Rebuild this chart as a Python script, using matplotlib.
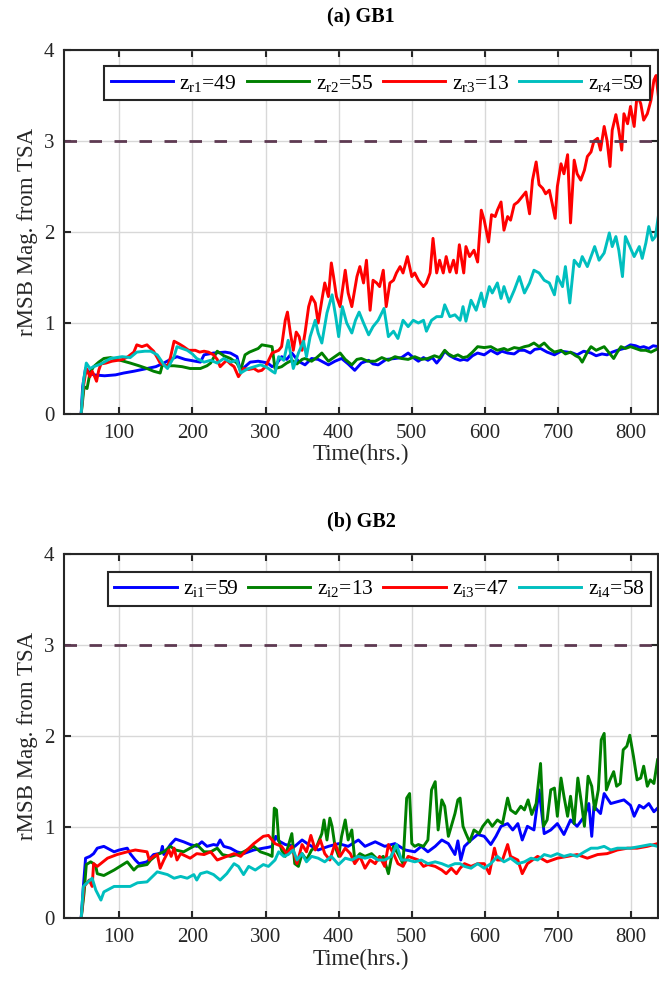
import matplotlib
matplotlib.use("Agg")
import matplotlib.pyplot as plt

plt.rcParams['font.family'] = ['Liberation Serif', 'DejaVu Serif']
plt.rcParams['mathtext.fontset'] = 'custom'
plt.rcParams['mathtext.rm'] = 'Liberation Serif'
plt.rcParams['mathtext.it'] = 'Liberation Serif:italic'

# ---------------- (a) GB1 ----------------
t_r1 = [48, 50, 54, 60, 65, 80, 95, 106, 120, 138, 150, 161, 170, 179, 190, 197, 211, 216, 229, 245,
        252, 261, 266, 272, 279, 290, 297, 303, 309, 315, 322, 329, 336, 345, 354, 363, 372, 386, 395, 404,
        413, 422, 431, 441, 447, 454, 465, 477, 486, 495, 502, 509, 516, 522, 528, 534, 540, 545, 552, 559,
        566, 571, 576, 583, 590, 599, 608, 617, 623, 631, 640, 647, 654, 662, 668, 676, 685, 695, 704, 713,
        720, 726, 735, 745, 752, 760, 767, 774, 781, 790, 799, 806, 812, 817, 824, 830, 837]
v_r1 = [0, 0.3, 0.5, 0.45, 0.43, 0.42, 0.43, 0.45, 0.47, 0.5, 0.52, 0.56, 0.6, 0.63, 0.6, 0.59, 0.57, 0.65, 0.67, 0.68,
        0.67, 0.63, 0.47, 0.52, 0.57, 0.58, 0.57, 0.56, 0.52, 0.55, 0.63, 0.6, 0.67, 0.58, 0.54, 0.61, 0.6, 0.54, 0.58, 0.61,
        0.55, 0.48, 0.56, 0.59, 0.55, 0.54, 0.6, 0.61, 0.62, 0.67, 0.62, 0.58, 0.62, 0.59, 0.62, 0.56, 0.62, 0.69, 0.64, 0.61,
        0.59, 0.6, 0.59, 0.64, 0.67, 0.65, 0.7, 0.66, 0.69, 0.67, 0.66, 0.7, 0.7, 0.67, 0.71, 0.72, 0.68, 0.65, 0.69, 0.68,
        0.67, 0.65, 0.69, 0.67, 0.64, 0.66, 0.65, 0.68, 0.7, 0.72, 0.76, 0.75, 0.73, 0.74, 0.72, 0.75, 0.74]

t_r2 = [48, 52, 56, 60, 65, 72, 79, 88, 97, 106, 115, 127, 138, 147, 156, 159, 166, 175, 186, 197,
        211, 220, 225, 234, 243, 252, 261, 266, 272, 278, 284, 290, 295, 302, 309, 313, 318, 322, 329, 336,
        343, 350, 354, 363, 370, 377, 386, 393, 402, 409, 418, 425, 431, 440, 450, 459, 468, 477, 486, 495,
        504, 513, 522, 531, 538, 545, 550, 557, 563, 570, 576, 583, 590, 599, 608, 617, 626, 631, 640, 647,
        654, 660, 667, 674, 681, 688, 695, 704, 710, 717, 724, 729, 733, 740, 745, 752, 763, 770, 776, 781,
        786, 792, 799, 806, 813, 820, 827, 832, 837]
v_r2 = [0, 0.3, 0.28, 0.45, 0.52, 0.57, 0.61, 0.62, 0.6, 0.58, 0.56, 0.53, 0.5, 0.47, 0.45, 0.54, 0.53, 0.53, 0.52, 0.5,
        0.5, 0.53, 0.56, 0.69, 0.64, 0.61, 0.56, 0.48, 0.65, 0.68, 0.7, 0.72, 0.76, 0.75, 0.74, 0.5, 0.51, 0.52, 0.56, 0.59,
        0.55, 0.6, 0.61, 0.58, 0.62, 0.67, 0.58, 0.62, 0.67, 0.6, 0.54, 0.6, 0.61, 0.58, 0.58, 0.62, 0.59, 0.63, 0.61, 0.6,
        0.63, 0.6, 0.61, 0.64, 0.62, 0.7, 0.66, 0.63, 0.65, 0.62, 0.63, 0.68, 0.74, 0.73, 0.74, 0.7, 0.72, 0.7, 0.73, 0.72,
        0.74, 0.75, 0.78, 0.74, 0.78, 0.72, 0.68, 0.7, 0.66, 0.68, 0.64, 0.62, 0.57, 0.68, 0.74, 0.7, 0.74, 0.67, 0.61, 0.68,
        0.74, 0.72, 0.74, 0.72, 0.7, 0.7, 0.68, 0.7, 0.72]

t_r3 = [48, 51, 55, 60, 63, 66, 69, 72, 75, 82, 90, 98, 105, 112, 120, 124, 131, 138, 143, 147,
        152, 156, 161, 166, 170, 175, 182, 188, 195, 204, 210, 216, 222, 229, 234, 238, 243, 247, 252, 257,
        263, 270, 277, 284, 290, 295, 300, 309, 318, 322, 327, 330, 334, 338, 342, 346, 350, 354, 359, 363,
        368, 372, 377, 381, 386, 390, 393, 397, 402, 409, 413, 418, 425, 429, 434, 438, 443, 447, 452, 456,
        461, 465, 470, 475, 479, 484, 488, 494, 500, 504, 509, 516, 520, 525, 529, 534, 538, 543, 547, 552,
        557, 561, 565, 568, 571, 574, 579, 585, 590, 595, 599, 605, 609, 614, 617, 622, 626, 631, 635, 640,
        645, 651, 656, 661, 665, 670, 674, 679, 683, 688, 692, 696, 699, 704, 708, 713, 717, 722, 726, 731,
        736, 740, 745, 749, 754, 758, 763, 767, 771, 774, 779, 783, 787, 790, 795, 799, 804, 808, 813, 817,
        822, 827, 831, 834, 837]
v_r3 = [0, 0.3, 0.5, 0.41, 0.47, 0.42, 0.36, 0.48, 0.55, 0.56, 0.58, 0.59, 0.6, 0.63, 0.68, 0.76, 0.74, 0.76, 0.72, 0.69,
        0.62, 0.56, 0.54, 0.52, 0.62, 0.8, 0.77, 0.74, 0.7, 0.7, 0.68, 0.69, 0.68, 0.65, 0.6, 0.52, 0.56, 0.59, 0.55, 0.52,
        0.41, 0.5, 0.49, 0.5, 0.47, 0.48, 0.52, 0.67, 0.7, 0.74, 1.03, 1.12, 0.89, 0.7, 0.9, 0.85, 0.7, 0.89, 1.18, 1.29,
        1.22, 1.0, 1.25, 1.44, 1.29, 1.66, 1.51, 1.29, 1.18, 1.58, 1.33, 1.18, 1.51, 1.62, 1.44, 1.69, 1.14, 1.47, 1.44, 1.4,
        1.58, 1.18, 1.44, 1.47, 1.55, 1.62, 1.55, 1.73, 1.51, 1.55, 1.47, 1.4, 1.44, 1.55, 1.93, 1.55, 1.69, 1.55, 1.73, 1.56,
        1.69, 1.55, 1.86, 1.7, 1.55, 1.84, 1.73, 1.8, 1.67, 2.24, 2.13, 1.89, 2.19, 2.17, 2.24, 2.33, 2.02, 2.17, 2.13, 2.3,
        2.33, 2.39, 2.44, 2.2, 2.57, 2.77, 2.52, 2.48, 2.42, 2.46, 2.31, 2.15, 2.5, 2.75, 2.64, 2.85, 2.1, 2.79, 2.64, 2.57,
        2.68, 2.83, 2.88, 3.0, 3.03, 2.9, 3.16, 3.0, 2.72, 3.12, 3.29, 3.12, 2.9, 3.3, 3.19, 3.38, 3.16, 3.51, 3.41, 3.23,
        3.3, 3.45, 3.67, 3.72, 3.5]

t_r4 = [48, 51, 55, 60, 65, 75, 88, 104, 115, 124, 135, 143, 152, 158, 161, 166, 175, 179, 186, 193,
        200, 206, 216, 225, 234, 243, 252, 261, 266, 272, 277, 285, 293, 300, 304, 309, 313, 318, 325, 331,
        338, 345, 352, 356, 361, 368, 372, 377, 384, 391, 396, 400, 405, 411, 418, 423, 428, 434, 441, 447,
        454, 462, 468, 475, 481, 488, 495, 502, 509, 516, 520, 527, 534, 541, 545, 552, 559, 566, 570, 574,
        581, 588, 595, 599, 606, 610, 617, 622, 626, 633, 640, 647, 654, 661, 667, 674, 681, 688, 695, 699,
        706, 710, 716, 722, 729, 733, 740, 745, 750, 756, 763, 770, 774, 779, 783, 788, 792, 798, 804, 811,
        815, 820, 824, 829, 833, 837]
v_r4 = [0, 0.35, 0.56, 0.5, 0.52, 0.55, 0.61, 0.63, 0.62, 0.68, 0.69, 0.69, 0.65, 0.58, 0.54, 0.5, 0.63, 0.74, 0.72, 0.7,
        0.66, 0.61, 0.57, 0.59, 0.56, 0.61, 0.57, 0.59, 0.45, 0.48, 0.5, 0.52, 0.54, 0.52, 0.5, 0.47, 0.45, 0.63, 0.59, 0.81,
        0.5, 0.67, 0.8, 0.63, 0.85, 1.03, 0.89, 0.78, 1.11, 1.31, 1.07, 0.85, 1.18, 1.0, 0.89, 1.03, 1.12, 1.0, 0.87, 0.96,
        1.03, 1.16, 0.85, 0.91, 0.83, 1.03, 0.96, 1.03, 1.0, 1.03, 0.91, 1.03, 1.07, 1.07, 1.2, 1.07, 1.09, 1.03, 1.18, 1.02,
        1.25, 1.14, 1.33, 1.18, 1.4, 1.33, 1.44, 1.27, 1.4, 1.23, 1.36, 1.51, 1.33, 1.44, 1.58, 1.55, 1.47, 1.44, 1.31, 1.51,
        1.4, 1.62, 1.22, 1.69, 1.62, 1.73, 1.62, 1.73, 1.84, 1.69, 1.77, 1.99, 1.84, 1.95, 1.8, 1.51, 1.95, 1.84, 1.73, 1.84,
        1.71, 1.88, 2.06, 1.91, 1.95, 2.17]

# ---------------- (b) GB2 ----------------
t_i1 = [48, 51, 54, 60, 65, 70, 79, 86, 93, 100, 111, 115, 122, 127, 138, 147, 154, 157, 159, 161,
        170, 177, 188, 197, 206, 213, 220, 229, 234, 238, 243, 252, 261, 270, 284, 297, 304, 309, 314, 318,
        327, 340, 350, 359, 372, 386, 400, 413, 427, 436, 450, 463, 477, 491, 504, 513, 522, 532, 541, 550,
        559, 563, 567, 572, 581, 590, 599, 608, 615, 622, 631, 638, 645, 651, 658, 667, 674, 681, 690, 699,
        708, 717, 726, 736, 742, 746, 749, 758, 763, 772, 781, 790, 799, 804, 811, 817, 824, 831, 836]
v_i1 = [0, 0.35, 0.66, 0.68, 0.71, 0.77, 0.79, 0.76, 0.73, 0.75, 0.77, 0.71, 0.64, 0.6, 0.62, 0.7, 0.71, 0.72, 0.79, 0.7,
        0.81, 0.87, 0.84, 0.81, 0.79, 0.84, 0.79, 0.81, 0.8, 0.86, 0.79, 0.77, 0.73, 0.71, 0.75, 0.77, 0.78, 0.79, 0.9, 0.85,
        0.81, 0.79, 0.86, 0.81, 0.75, 0.79, 0.82, 0.79, 0.86, 0.79, 0.84, 0.79, 0.82, 0.75, 0.73, 0.79, 0.73, 0.79, 0.86, 0.82,
        0.7, 0.85, 0.64, 0.79, 0.86, 0.92, 0.9, 0.81, 0.9, 1.01, 1.04, 0.97, 1.04, 0.86, 1.01, 0.97, 1.41, 0.93, 0.97, 1.04,
        0.92, 1.08, 1.01, 1.12, 1.26, 0.9, 1.23, 1.15, 1.37, 1.26, 1.28, 1.3, 1.24, 1.12, 1.24, 1.21, 1.26, 1.17, 1.21]

t_i2 = [48, 52, 55, 61, 65, 68, 70, 79, 93, 111, 120, 125, 138, 143, 152, 161, 170, 177, 188, 206,
        216, 225, 234, 241, 252, 261, 270, 284, 293, 304, 309, 312, 315, 318, 322, 327, 331, 336, 340, 345,
        350, 356, 363, 370, 377, 380, 384, 388, 391, 395, 400, 404, 409, 413, 418, 422, 429, 436, 445, 454,
        461, 468, 475, 481, 488, 493, 497, 500, 504, 509, 516, 522, 527, 532, 536, 541, 545, 550, 554, 559,
        563, 566, 570, 574, 579, 585, 592, 597, 604, 610, 617, 624, 631, 635, 642, 649, 654, 659, 664, 670,
        676, 680, 685, 690, 695, 699, 704, 708, 713, 717, 722, 727, 732, 736, 741, 746, 750, 755, 759, 763,
        766, 771, 776, 780, 785, 789, 794, 798, 803, 808, 813, 817, 822, 826, 831, 836]
v_i2 = [0, 0.28, 0.59, 0.62, 0.6, 0.57, 0.49, 0.47, 0.53, 0.62, 0.53, 0.57, 0.59, 0.64, 0.7, 0.73, 0.79, 0.75, 0.73, 0.81,
        0.73, 0.73, 0.77, 0.7, 0.68, 0.7, 0.73, 0.79, 0.73, 0.7, 0.68, 1.21, 1.19, 0.86, 0.75, 0.68, 0.79, 0.93, 0.6, 0.57,
        0.71, 0.64, 0.75, 0.79, 0.93, 1.08, 0.86, 1.1, 1.01, 0.79, 0.68, 0.9, 1.08, 0.86, 0.97, 0.64, 0.71, 0.68, 0.71, 0.64,
        0.68, 0.49, 0.79, 0.71, 0.6, 1.32, 1.37, 0.82, 0.79, 0.81, 0.79, 0.86, 1.41, 1.5, 0.97, 1.3, 1.23, 0.9, 1.01, 1.15,
        1.3, 1.32, 1.01, 0.93, 0.84, 0.97, 0.93, 1.01, 1.08, 1.01, 1.08, 1.04, 1.32, 1.19, 1.15, 1.23, 1.19, 1.3, 1.14, 1.26,
        1.7, 1.01, 1.08, 1.41, 1.43, 1.12, 1.54, 1.34, 1.12, 1.34, 1.04, 1.54, 1.26, 1.01, 1.56, 1.45, 1.19, 1.41, 1.96, 2.03,
        1.41, 1.52, 1.61, 1.45, 1.48, 1.85, 1.89, 2.01, 1.78, 1.52, 1.54, 1.67, 1.45, 1.52, 1.48, 1.74]

t_i3 = [48, 52, 59, 63, 65, 70, 84, 97, 111, 122, 138, 141, 147, 152, 156, 161, 168, 171, 175, 179,
        184, 197, 206, 216, 225, 234, 247, 257, 266, 272, 284, 297, 304, 313, 322, 329, 336, 343, 350, 356,
        362, 368, 375, 381, 388, 395, 402, 409, 416, 422, 429, 436, 443, 450, 456, 463, 468, 475, 481, 488,
        495, 502, 509, 516, 522, 532, 541, 547, 554, 561, 566, 572, 581, 590, 599, 606, 613, 617, 624, 631,
        635, 645, 651, 658, 672, 685, 699, 713, 726, 740, 754, 767, 781, 795, 808, 822, 836]
v_i3 = [0, 0.35, 0.42, 0.35, 0.6, 0.57, 0.66, 0.7, 0.73, 0.75, 0.73, 0.64, 0.68, 0.7, 0.55, 0.64, 0.75, 0.68, 0.77, 0.64,
        0.71, 0.66, 0.71, 0.7, 0.73, 0.64, 0.68, 0.71, 0.68, 0.73, 0.82, 0.9, 0.91, 0.82, 0.79, 0.71, 0.79, 0.6, 0.81, 0.73,
        0.91, 0.75, 0.86, 0.71, 0.64, 0.82, 0.68, 0.77, 0.71, 0.6, 0.68, 0.55, 0.64, 0.6, 0.68, 0.57, 0.81, 0.71, 0.6, 0.57,
        0.68, 0.66, 0.64, 0.57, 0.59, 0.57, 0.53, 0.49, 0.55, 0.49, 0.55, 0.6, 0.57, 0.6, 0.6, 0.49, 0.77, 0.64, 0.64, 0.81,
        0.68, 0.64, 0.49, 0.6, 0.68, 0.62, 0.66, 0.68, 0.7, 0.66, 0.7, 0.71, 0.75, 0.77, 0.77, 0.79, 0.82]

t_i4 = [48, 51, 56, 63, 68, 75, 79, 93, 115, 125, 138, 152, 166, 175, 184, 193, 202, 206, 211, 220,
        229, 238, 247, 257, 263, 270, 277, 286, 297, 304, 313, 318, 325, 331, 338, 343, 350, 356, 363, 372,
        381, 390, 400, 409, 418, 427, 436, 445, 454, 463, 472, 479, 486, 495, 504, 513, 522, 532, 541, 550,
        559, 566, 572, 581, 590, 599, 608, 617, 626, 635, 645, 654, 663, 672, 681, 690, 699, 708, 717, 726,
        736, 745, 754, 763, 772, 781, 790, 799, 813, 826, 836]
v_i4 = [0, 0.35, 0.39, 0.44, 0.31, 0.2, 0.29, 0.35, 0.35, 0.39, 0.4, 0.51, 0.48, 0.44, 0.46, 0.44, 0.48, 0.42, 0.49, 0.51,
        0.48, 0.42, 0.49, 0.6, 0.57, 0.48, 0.57, 0.53, 0.59, 0.57, 0.64, 0.73, 0.68, 0.7, 0.75, 0.64, 0.71, 0.62, 0.68, 0.66,
        0.62, 0.68, 0.59, 0.66, 0.64, 0.68, 0.66, 0.68, 0.64, 0.64, 0.68, 0.81, 0.64, 0.64, 0.62, 0.64, 0.6, 0.62, 0.6, 0.57,
        0.6, 0.6, 0.57, 0.55, 0.6, 0.55, 0.6, 0.68, 0.62, 0.66, 0.6, 0.62, 0.66, 0.64, 0.7, 0.68, 0.71, 0.68, 0.7, 0.68,
        0.73, 0.77, 0.77, 0.79, 0.75, 0.77, 0.77, 0.77, 0.79, 0.81, 0.79]

threshold = 3.0
labels_a = ['z$_{\\mathrm{r1}}$=49', 'z$_{\\mathrm{r2}}$=55', 'z$_{\\mathrm{r3}}$=13', 'z$_{\\mathrm{r4}}$=59']
labels_b = ['z$_{\\mathrm{i1}}$=59', 'z$_{\\mathrm{i2}}$=13', 'z$_{\\mathrm{i3}}$=47', 'z$_{\\mathrm{i4}}$=58']
colors = ['#0000ff', '#008000', '#ff0000', '#00bfbf']

fig = plt.figure(figsize=(6.59, 9.85), dpi=100)
ax1 = fig.add_axes([0.0971, 0.5797, 0.9014, 0.3695])
ax2 = fig.add_axes([0.0971, 0.0677, 0.9014, 0.3699])


def draw(ax, series, labels, title, leg_anchor):
    for (t, v), lab, c in zip(series, labels, colors):
        ax.plot(t, v, color=c, lw=2.1, label=lab)
    ax.axhline(threshold, color='#5e3a52', lw=2.0, ls=(0, (4.5, 4.5)))
    ax.set_xlim(24.5, 836.6)
    ax.set_ylim(0, 4)
    ax.set_xticks([100, 200, 300, 400, 500, 600, 700, 800])
    ax.set_yticks([0, 1, 2, 3, 4])
    ax.grid(True, color='#d8d8d8', lw=1.0)
    ax.set_axisbelow(True)
    for s in ax.spines.values():
        s.set_linewidth(1.5)
        s.set_color('#262626')
    ax.tick_params(direction='in', length=5, width=1.5, top=True, right=True,
                   labelsize=15, colors='#262626', pad=7)
    ax.set_xlabel('Time(hrs.)', fontsize=16.5, color='#262626', labelpad=1)
    ax.set_ylabel('rMSB Mag. from TSA', fontsize=16.5, color='#262626', labelpad=4)
    ax.set_title(title, fontsize=14.5, fontweight='bold', pad=20)
    leg = ax.legend(loc='upper right', bbox_to_anchor=leg_anchor, ncol=4, fontsize=15.5,
                    frameon=True, fancybox=False, edgecolor='#262626', framealpha=1,
                    handlelength=2.9, handletextpad=0.3, columnspacing=0.45,
                    borderpad=0.3, borderaxespad=0)
    leg.get_frame().set_linewidth(1.5)


draw(ax1, [(t_r1, v_r1), (t_r2, v_r2), (t_r3, v_r3), (t_r4, v_r4)], labels_a, '(a) GB1', (0.9865, 0.956))
draw(ax2, [(t_i1, v_i1), (t_i2, v_i2), (t_i3, v_i3), (t_i4, v_i4)], labels_b, '(b) GB2', (0.988, 0.9506))

fig.savefig('out.png', dpi=100)
